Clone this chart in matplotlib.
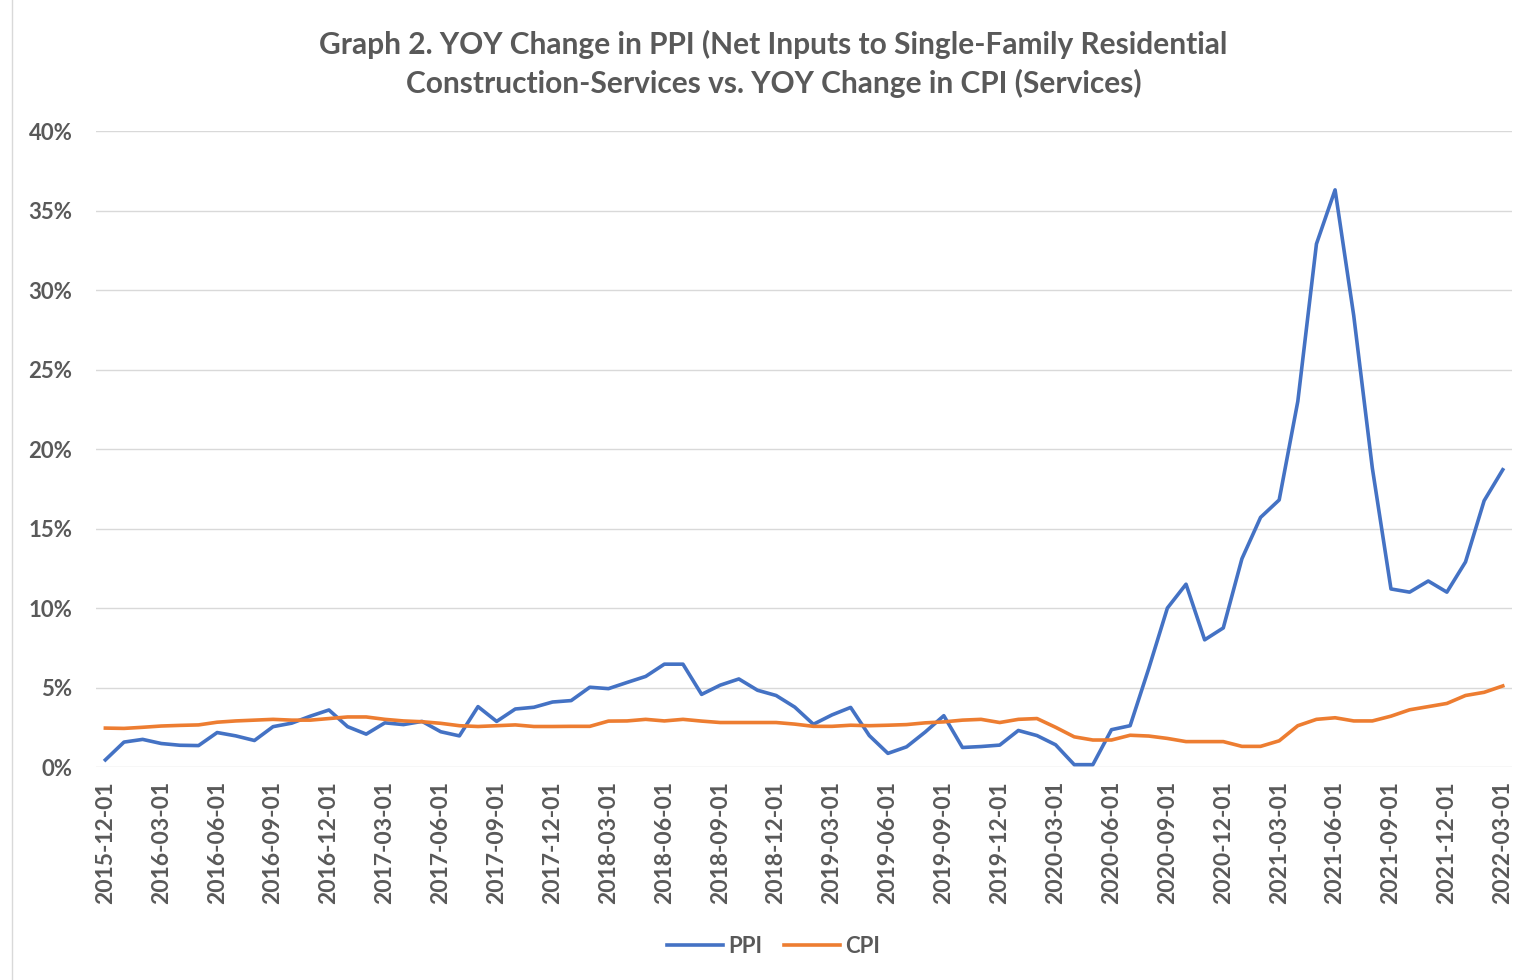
import matplotlib.pyplot as plt
import numpy as np
import pandas as pd

# 月次データ (2015-12 〜 2022-03)
months = pd.date_range("2015-12-01", periods=76, freq="MS").strftime("%Y-%m-%d")

ppi = [0.45, 1.57, 1.74, 1.48, 1.37, 1.35, 2.17, 1.96, 1.67, 2.54,
       2.76, 3.2, 3.59, 2.54, 2.07, 2.78, 2.67, 2.87, 2.22, 1.96,
       3.8, 2.87, 3.65, 3.76, 4.09, 4.18, 5.02, 4.93, 5.32, 5.7,
       6.47, 6.47, 4.57, 5.15, 5.54, 4.83, 4.5, 3.77, 2.69, 3.28,
       3.75, 1.98, 0.86, 1.27, 2.2, 3.23, 1.23, 1.29, 1.38, 2.3,
       1.98, 1.4, 0.15, 0.15, 2.35, 2.6, 6.2, 10.0, 11.5, 8.0,
       8.75, 13.1, 15.7, 16.8, 23.0, 32.9, 36.3, 28.4, 18.8, 11.2,
       11.0, 11.7, 11.0, 12.9, 16.75, 18.7]

cpi = [2.45, 2.43, 2.5, 2.58, 2.62, 2.65, 2.82, 2.9, 2.95, 3.0,
       2.95, 2.95, 3.05, 3.15, 3.15, 3.0, 2.9, 2.85, 2.75, 2.6,
       2.55, 2.6, 2.65, 2.55, 2.55, 2.56, 2.56, 2.89, 2.9, 3.0,
       2.9, 3.0, 2.89, 2.8, 2.8, 2.8, 2.8, 2.7, 2.56, 2.56,
       2.63, 2.6, 2.63, 2.67, 2.78, 2.84, 2.95, 3.0, 2.8, 3.0,
       3.05, 2.5, 1.9, 1.7, 1.7, 2.0, 1.95, 1.8, 1.6, 1.6,
       1.6, 1.3, 1.3, 1.65, 2.6, 3.0, 3.1, 2.9, 2.9, 3.2,
       3.6, 3.8, 4.0, 4.5, 4.7, 5.1]

title = ("Graph 2. YOY Change in PPI (Net Inputs to Single-Family Residential\n"
         "Construction-Services vs. YOY Change in CPI (Services)")

plt.rcParams['font.family'] = ['Lato', 'DejaVu Sans']
text_color = '#595959'

fig = plt.figure(figsize=(15.32, 9.8), dpi=100)
ax = fig.add_axes([0.0627, 0.2173, 0.9243, 0.649])

x = np.arange(len(months))
ax.plot(x, np.array(ppi) / 100, color='#4472C4', lw=2.6, label='PPI')
ax.plot(x, np.array(cpi) / 100, color='#ED7D31', lw=2.6, label='CPI')

ax.set_xlim(-0.5, len(months) - 0.5)
ax.set_ylim(0, 0.40)
ax.set_yticks(np.arange(0, 0.41, 0.05))
ax.set_yticklabels([f"{int(round(v * 100))}%" for v in np.arange(0, 0.41, 0.05)])
ax.set_xticks(x[::3])
ax.set_xticklabels(months[::3], rotation=90)

ax.grid(axis='y', color='#D9D9D9', lw=1)
ax.set_axisbelow(True)
for s in ax.spines.values():
    s.set_visible(False)
ax.tick_params(length=0, colors=text_color)
for lab in ax.get_yticklabels():
    lab.set_fontsize(16)
    lab.set_fontweight('bold')
for lab in ax.get_xticklabels():
    lab.set_fontsize(16.5)
    lab.set_fontweight('bold')
ax.tick_params(axis='y', pad=17)
ax.tick_params(axis='x', pad=10)

fig.text(0.505, 0.935, title, ha='center', va='center', fontsize=21.5,
         fontweight='bold', color=text_color, linespacing=1.4)

fig.legend(loc='center', bbox_to_anchor=(0.505, 0.034), ncol=2, frameon=False,
           prop={'size': 16, 'weight': 'bold'}, labelcolor=text_color,
           handlelength=2.5, columnspacing=1.0, handletextpad=0.25)

# 左側の枠線
fig.add_artist(plt.Line2D([12 / 1532, 12 / 1532], [0, 1], color='#D9D9D9', lw=1))

fig.savefig("out.png", dpi=100)
